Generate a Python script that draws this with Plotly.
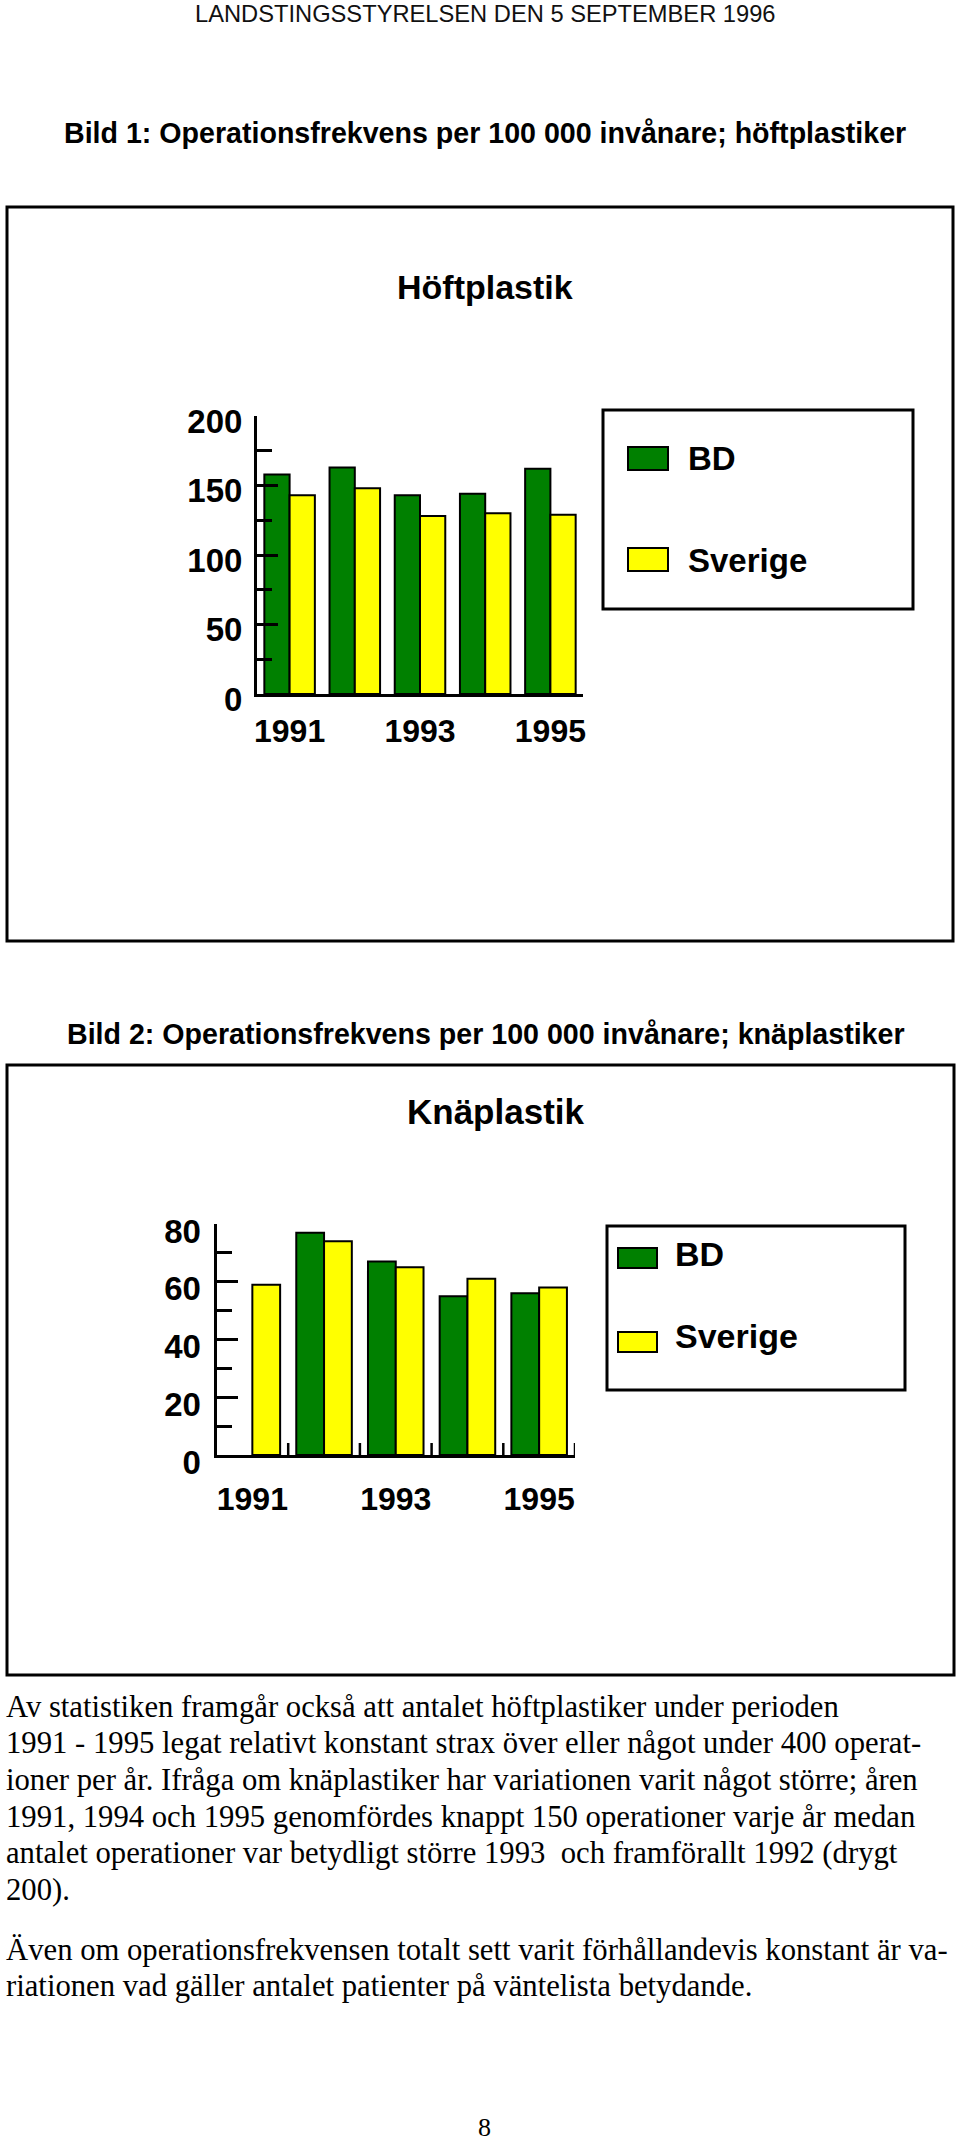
import plotly.graph_objects as go

# ---------------- data ----------------
years = ["1991", "1992", "1993", "1994", "1995"]
year_ticks = ["1991", "1993", "1995"]
series_names = ["BD", "Sverige"]

hip_bd = [158, 163, 143, 144, 162]
hip_sverige = [143, 148, 128, 130, 129]

knee_bd = [None, 77, 67, 55, 56]
knee_sverige = [59, 74, 65, 61, 58]

hip_yticks = [0, 50, 100, 150, 200]
knee_yticks = [0, 20, 40, 60, 80]

header_text = "LANDSTINGSSTYRELSEN DEN 5 SEPTEMBER 1996"
caption1 = "Bild 1: Operationsfrekvens per 100 000 invånare; höftplastiker"
caption2 = "Bild 2: Operationsfrekvens per 100 000 invånare; knäplastiker"
title1 = "Höftplastik"
title2 = "Knäplastik"
para1_lines = [
    "Av statistiken framgår också att antalet höftplastiker under perioden",
    "1991 - 1995 legat relativt konstant strax över eller något under 400 operat-",
    "ioner per år. Ifråga om knäplastiker har variationen varit något större; åren",
    "1991, 1994 och 1995 genomfördes knappt 150 operationer varje år medan",
    "antalet operationer var betydligt större 1993\u00a0 och framförallt 1992 (drygt",
    "200).",
]
para2_lines = [
    "Även om operationsfrekvensen totalt sett varit förhållandevis konstant är va-",
    "riationen vad gäller antalet patienter på väntelista betydande.",
]
page_number = "8"

# ---------------- styling ----------------
W, H = 960, 2144
GREEN = "#008000"
YELLOW = "#FFFF00"
colors = [GREEN, YELLOW]
SANS = "Liberation Sans"
SERIF = "Liberation Serif"


def px(x):
    return x / W


def py(y):
    return 1 - y / H


fig = go.Figure()

# bars
for name, vals, col in zip(series_names, [hip_bd, hip_sverige], colors):
    fig.add_trace(go.Bar(x=years, y=vals, name=name, marker=dict(color=col, line=dict(color="black", width=2)),
                         xaxis="x", yaxis="y", showlegend=False))
for name, vals, col in zip(series_names, [knee_bd, knee_sverige], colors):
    fig.add_trace(go.Bar(x=years, y=vals, name=name, marker=dict(color=col, line=dict(color="black", width=2)),
                         xaxis="x2", yaxis="y2", showlegend=False))

axis_common = dict(showgrid=False, zeroline=False, showline=True, linecolor="black", linewidth=3,
                   automargin=False)

fig.update_layout(
    template="none",
    width=W, height=H, autosize=False,
    margin=dict(l=0, r=0, t=0, b=0, pad=0, autoexpand=False),
    paper_bgcolor="white", plot_bgcolor="rgba(0,0,0,0)",
    barmode="group", bargap=0.225, bargroupgap=0,
    showlegend=False,
    xaxis=dict(axis_common, domain=[px(257), px(583)], type="category", categoryarray=years,
               range=[-0.5, 4.5], tickvals=year_ticks, ticks="", anchor="y",
               tickfont=dict(family=SANS, size=32, color="black", weight="bold"), ticklabelstandoff=7),
    yaxis=dict(axis_common, domain=[py(694), py(416)], range=[0, 200], tickvals=hip_yticks,
               ticks="inside", ticklen=21, tickwidth=2.5, tickcolor="black", anchor="x",
               minor=dict(dtick=25, ticks="inside", ticklen=15, tickwidth=2.5, tickcolor="black"),
               tickfont=dict(family=SANS, size=33, color="black", weight="bold"),
               ticklabelstandoff=5, ticklabelshift=5),
    xaxis2=dict(axis_common, domain=[px(216.5), px(575)], type="category", categoryarray=years,
                range=[-0.5, 4.5], tickvals=year_ticks, ticks="", anchor="y2",
                tickfont=dict(family=SANS, size=32, color="black", weight="bold"), ticklabelstandoff=14),
    yaxis2=dict(axis_common, domain=[py(1455), py(1224)], range=[0, 80], tickvals=knee_yticks,
                ticks="inside", ticklen=21, tickwidth=2.5, tickcolor="black", anchor="x2",
                minor=dict(dtick=10, ticks="inside", ticklen=15, tickwidth=2.5, tickcolor="black"),
                tickfont=dict(family=SANS, size=33, color="black", weight="bold"),
                ticklabelstandoff=6, ticklabelshift=7),
)

shapes = []
# chart frames
shapes.append(dict(type="rect", xref="paper", yref="paper", x0=px(7), x1=px(953), y0=py(941), y1=py(207),
                   line=dict(color="black", width=3), layer="below"))
shapes.append(dict(type="rect", xref="paper", yref="paper", x0=px(7), x1=px(954), y0=py(1675), y1=py(1065),
                   line=dict(color="black", width=3), layer="below"))

# boundary tick marks on knee chart x axis (between categories)
for i in range(len(years)):
    shapes.append(dict(type="line", xref="x2", yref="paper", x0=i + 0.5, x1=i + 0.5, y0=py(1455), y1=py(1443),
                       line=dict(color="black", width=2.5)))

# custom legends
legend_specs = [
    dict(box=(603, 410, 913, 609), sw=(628, 668), sw_y=(458.5, 559.5), sh=11.5, tx=686, ty=(458.5, 560), fs=33),
    dict(box=(607, 1226, 905, 1390), sw=(618, 657), sw_y=(1258, 1342), sh=10, tx=673, ty=(1253.5, 1336), fs=34),
]
annotations = []
for spec in legend_specs:
    bx0, by0, bx1, by1 = spec["box"]
    shapes.append(dict(type="rect", xref="paper", yref="paper", x0=px(bx0), x1=px(bx1), y0=py(by1), y1=py(by0),
                       line=dict(color="black", width=3), fillcolor="white"))
    for name, col, syc, tyc in zip(series_names, colors, spec["sw_y"], spec["ty"]):
        shapes.append(dict(type="rect", xref="paper", yref="paper", x0=px(spec["sw"][0]), x1=px(spec["sw"][1]),
                           y0=py(syc + spec["sh"]), y1=py(syc - spec["sh"]),
                           line=dict(color="black", width=2), fillcolor=col))
        annotations.append(dict(text=name, xref="paper", yref="paper", x=px(spec["tx"]), y=py(tyc),
                                xanchor="left", yanchor="middle", showarrow=False,
                                font=dict(family=SANS, size=spec["fs"], color="black", weight="bold")))


def add_text(text, x, y, size, family, bold=False, xanchor="center", color="black"):
    annotations.append(dict(text=text, xref="paper", yref="paper", x=px(x), y=py(y),
                            xanchor=xanchor, yanchor="middle", showarrow=False,
                            font=dict(family=family, size=size, color=color,
                                      weight="bold" if bold else "normal")))


add_text(header_text, 485, 14, 23.7, SANS, color="#111111")
add_text(caption1, 485, 133, 28.6, SANS, bold=True)
add_text(title1, 485, 287, 34, SANS, bold=True)
add_text(caption2, 486, 1034, 28.6, SANS, bold=True)
add_text(title2, 496, 1111, 35, SANS, bold=True)

for i, line in enumerate(para1_lines):
    add_text(line, 4, 1706.5 + 36.7 * i, 30.7, SERIF, xanchor="left")
for i, line in enumerate(para2_lines):
    add_text(line, 4, 1949.5 + 36.4 * i, 30.7, SERIF, xanchor="left")
add_text(page_number, 484, 2127, 26, SERIF)

fig.update_layout(shapes=shapes, annotations=annotations)
fig.write_html("out.html")
